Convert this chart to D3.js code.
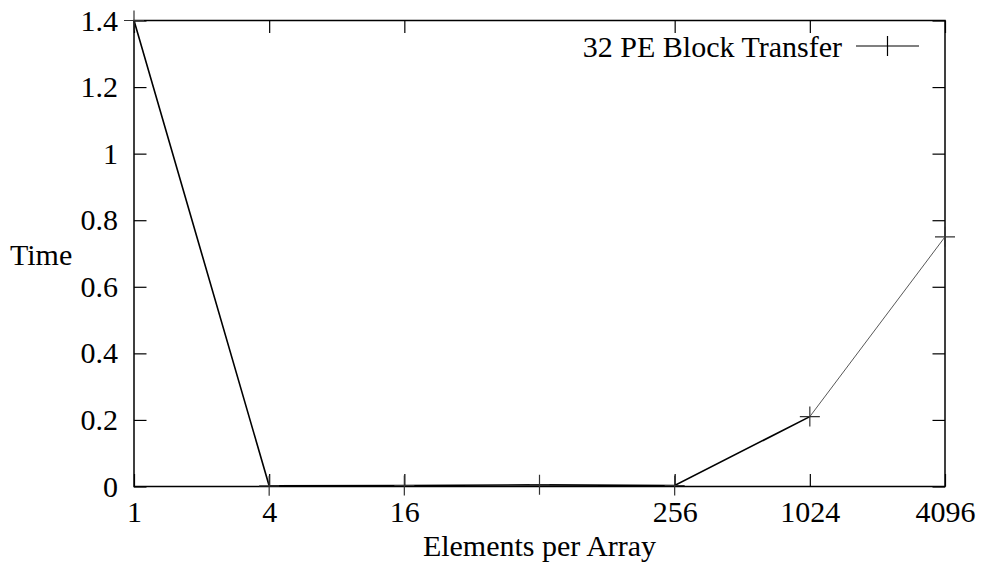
<!DOCTYPE html>
<html>
<head>
<meta charset="utf-8">
<script src="https://cdn.jsdelivr.net/npm/d3@7"></script>
<style>
  html, body { margin: 0; padding: 0; background: #fff; }
  svg text { font-family: "Liberation Serif", "Times New Roman", serif; }
</style>
</head>
<body>
<div id="chart"></div>
<script>
// elements per array vs. time, one series
const sizes = [1, 4, 16, 64, 256, 1024, 4096]
const times = [1.4, 0.002, 0.003, 0.005, 0.003, 0.21, 0.75]
const xTicks = [1, 4, 16, 256, 1024, 4096]
const yTicks = [0, 0.2, 0.4, 0.6, 0.8, 1, 1.2, 1.4]
const seriesName = "32 PE Block Transfer"

const width = 986, height = 569
const plotLeft = 134, plotRight = 945, plotTop = 20.5, plotBottom = 486.5
const fontSize = 30

const x = d3.scaleLog().base(4).domain([1, 4096]).range([plotLeft, plotRight])
const y = d3.scaleLinear().domain([0, 1.4]).range([plotBottom, plotTop])

const svg = d3.create("svg")
    .attr("width", width)
    .attr("height", height)
    .attr("viewBox", [0, 0, width, height])

const fmt = d => String(+d.toFixed(1))

// axes, gnuplot style: ticks point inward, mirrored on top/right
function styleAxis(g) {
  g.attr("font-family", null)
  g.select(".domain").remove()
  g.selectAll(".tick line").attr("stroke", "#000").attr("stroke-width", 1.2)
  g.selectAll(".tick text").attr("font-size", fontSize).attr("fill", "#000")
}

svg.append("g")
    .attr("transform", `translate(0,${plotBottom})`)
    .call(d3.axisBottom(x).tickValues(xTicks).tickFormat(d3.format("d")).tickSize(-12.5).tickPadding(14.5))
    .call(styleAxis)

svg.append("g")
    .attr("transform", `translate(0,${plotTop})`)
    .call(d3.axisTop(x).tickValues(xTicks).tickFormat("").tickSize(-12.5))
    .call(styleAxis)

svg.append("g")
    .attr("transform", `translate(${plotLeft},0)`)
    .call(d3.axisLeft(y).tickValues(yTicks).tickFormat(fmt).tickSize(-12.5).tickPadding(16))
    .call(styleAxis)

svg.append("g")
    .attr("transform", `translate(${plotRight},0)`)
    .call(d3.axisRight(y).tickValues(yTicks).tickFormat("").tickSize(-12.5))
    .call(styleAxis)

svg.append("rect")
    .attr("x", plotLeft).attr("y", plotTop)
    .attr("width", plotRight - plotLeft).attr("height", plotBottom - plotTop)
    .attr("fill", "none")
    .attr("stroke", "#000")
    .attr("stroke-width", 1.5)

const data = sizes.map((s, i) => ({s, t: times[i]}))
const line = d3.line().x(d => x(d.s)).y(d => y(d.t))

// the last segment renders thinner in the original
svg.append("path")
    .datum(data.slice(0, -1))
    .attr("fill", "none")
    .attr("stroke", "#000")
    .attr("stroke-width", 1.6)
    .attr("d", line)

svg.append("path")
    .datum(data.slice(-2))
    .attr("fill", "none")
    .attr("stroke", "#444")
    .attr("stroke-width", 0.9)
    .attr("d", line)

const r = 10
svg.append("g")
    .selectAll("path")
    .data(data)
    .join("path")
      .attr("fill", "none")
      .attr("stroke", "#333")
      .attr("stroke-width", 1.2)
      .attr("d", d => `M${x(d.s) - r},${y(d.t)}H${x(d.s) + r}M${x(d.s)},${y(d.t) - r}V${y(d.t) + r}`)

// legend
const lg = svg.append("g")
lg.append("text")
    .attr("x", 842).attr("y", 57)
    .attr("text-anchor", "end")
    .attr("font-size", fontSize)
    .text(seriesName)
lg.append("path")
    .attr("stroke", "#000").attr("stroke-width", 1.2)
    .attr("d", `M856,46H919M887.5,${46 - r}V${46 + r}`)

// axis titles
svg.append("text")
    .attr("x", 10).attr("y", 265)
    .attr("font-size", fontSize)
    .text("Time")

svg.append("text")
    .attr("x", (plotLeft + plotRight) / 2).attr("y", 556)
    .attr("text-anchor", "middle")
    .attr("font-size", fontSize)
    .text("Elements per Array")

d3.select("#chart").node().appendChild(svg.node())
</script>
</body>
</html>
